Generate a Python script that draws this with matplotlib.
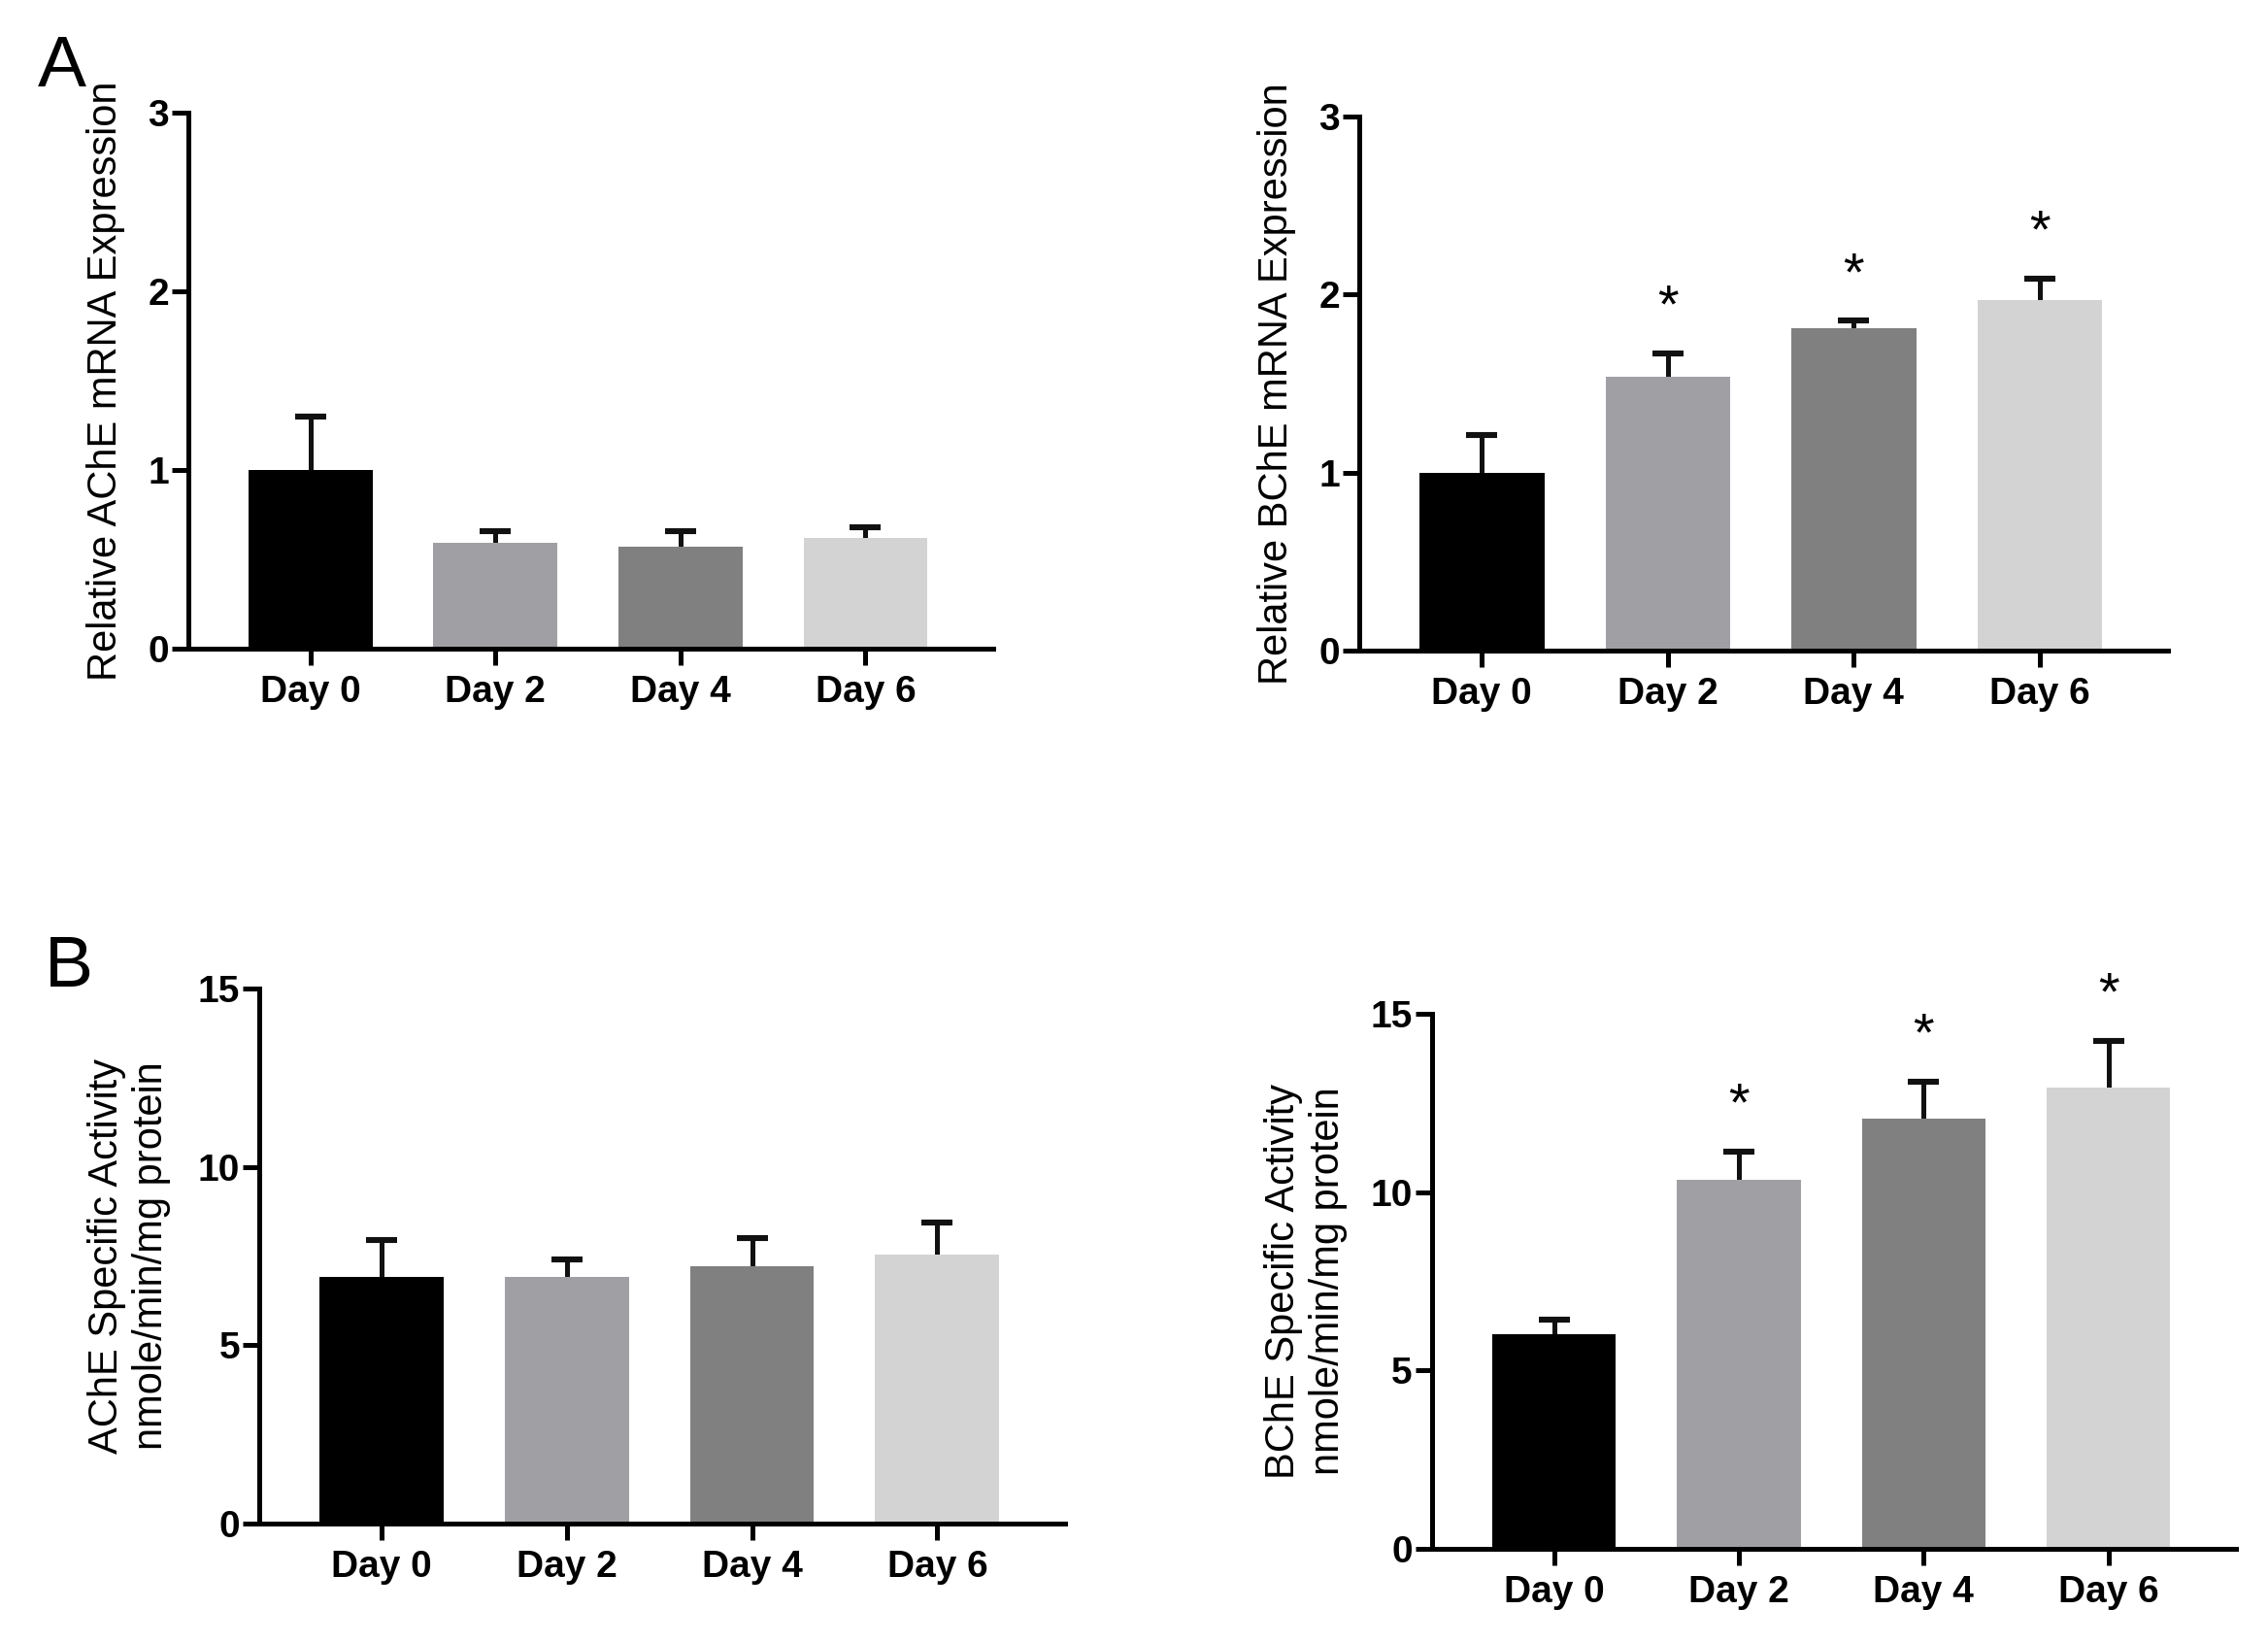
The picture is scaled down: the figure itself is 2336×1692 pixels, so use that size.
import matplotlib
matplotlib.use('Agg')
import matplotlib.pyplot as plt

plt.rcParams['font.family'] = ['Liberation Sans', 'DejaVu Sans']

# Data
days = ['Day 0', 'Day 2', 'Day 4', 'Day 6']
bar_colors = ['#000000', '#a0a0a4', '#808080', '#d3d3d3']

ache_mrna = [1.0, 0.59, 0.57, 0.62]
ache_mrna_err = [0.30, 0.07, 0.09, 0.06]
bche_mrna = [1.0, 1.54, 1.81, 1.97]
bche_mrna_err = [0.21, 0.13, 0.045, 0.12]

ache_act = [6.9, 6.9, 7.22, 7.54]
ache_act_err = [1.06, 0.5, 0.79, 0.89]
bche_act = [6.03, 10.34, 12.06, 12.94]
bche_act_err = [0.39, 0.8, 1.04, 1.31]

bche_mrna_sig = [False, True, True, True]
bche_act_sig = [False, True, True, True]

LW = 1.8

fig = plt.figure(figsize=(11.68, 8.46), dpi=200)


def draw_panel(rect, values, errs, ymax, yticks, ylabel, label_x, sig=None):
    ax = fig.add_axes(rect)
    x = list(range(len(days)))
    ax.bar(x, values, width=0.67, color=bar_colors, zorder=2)
    # upper error bars only, the lower half hides behind the bar
    _, caps, _ = ax.errorbar(x, values, yerr=[[0] * len(errs), errs], fmt='none',
                             ecolor='#111111', elinewidth=LW, capsize=5.8, capthick=2.2, zorder=1)
    caps[0].set_visible(False)
    if sig is not None:
        for xi, v, e, s in zip(x, values, errs, sig):
            if s:
                ax.annotate('*', xy=(xi, v + e), xytext=(0, 11.5), textcoords='offset points',
                            ha='center', va='baseline', fontsize=20)
    ax.set_xlim(-0.66, 3.69)
    ax.set_ylim(0, ymax)
    ax.set_yticks(yticks)
    ax.set_xticks(x)
    ax.set_xticklabels(days)
    for s in ['top', 'right']:
        ax.spines[s].set_visible(False)
    for s in ['left', 'bottom']:
        ax.spines[s].set_linewidth(LW)
    ax.tick_params(axis='both', width=LW, length=6.2, labelsize=14)
    ax.tick_params(axis='y', pad=1)
    ax.tick_params(axis='x', pad=3.5)
    for t in ax.get_xticklabels() + ax.get_yticklabels():
        t.set_fontweight('bold')
    ax.set_ylabel(ylabel, fontsize=15, linespacing=1.2)
    ax.yaxis.set_label_coords(label_x, 0.5)
    return ax


draw_panel([0.0830, 0.6052, 0.3549, 0.3262], ache_mrna, ache_mrna_err, 3, [0, 1, 2, 3],
           'Relative AChE mRNA Expression', -0.078)
draw_panel([0.5993, 0.6040, 0.3566, 0.3251], bche_mrna, bche_mrna_err, 3, [0, 1, 2, 3],
           'Relative BChE mRNA Expression', -0.078, bche_mrna_sig)
draw_panel([0.1143, 0.0727, 0.3553, 0.3257], ache_act, ache_act_err, 15, [0, 5, 10, 15],
           'AChE Specific Activity\nnmole/min/mg protein', -0.110)
draw_panel([0.6314, 0.0573, 0.3545, 0.3257], bche_act, bche_act_err, 15, [0, 5, 10, 15],
           'BChE Specific Activity\nnmole/min/mg protein', -0.105, bche_act_sig)

fig.text(39 / 2336, 1 - 35 / 1692, 'A', fontsize=27, ha='left', va='top')
fig.text(46 / 2336, 1 - 962 / 1692, 'B', fontsize=27, ha='left', va='top')

fig.savefig('out.png', dpi=200, facecolor='white')
